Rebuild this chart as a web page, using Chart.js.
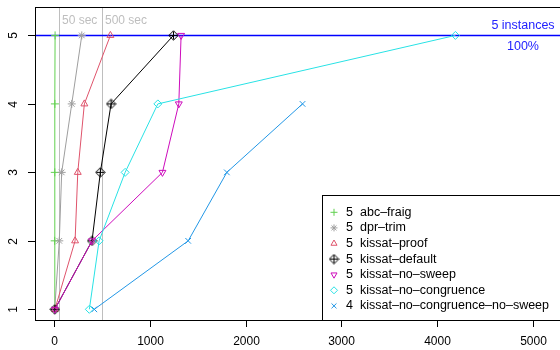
<!DOCTYPE html>
<html>
<head>
<meta charset="utf-8">
<script src="https://cdn.jsdelivr.net/npm/chart.js@4.4.1/dist/chart.umd.min.js"></script>
<style>
  html, body { margin: 0; padding: 0; overflow: hidden; background: #fff; }
  #wrap { width: 600px; height: 350px; }
</style>
</head>
<body>
<div id="wrap"><canvas id="c" width="600" height="350"></canvas></div>
<script>
// solve times (sec), the n-th value is the time when n instances were solved
const names = ['abc–fraig', 'dpr–trim', 'kissat–proof', 'kissat–default',
  'kissat–no–sweep', 'kissat–no–congruence', 'kissat–no–congruence–no–sweep'];
const abcFraig = [2, 4, 5, 6, 8];
const dprTrim = [4, 52, 77, 182, 287];
const kissatProof = [6, 217, 245, 314, 586];
const kissatDefault = [5, 394, 481, 593, 1245];
const kissatNoSweep = [6, 394, 1130, 1301, 1325];
const kissatNoCongruence = [366, 468, 740, 1082, 4192];
const kissatNoCongNoSweep = [418, 1399, 1803, 2594];

const xTicks = [0, 1000, 2000, 3000, 4000, 5000];
const yTicks = [1, 2, 3, 4, 5];
const refTimes = [50, 500];
const refLabels = ['50 sec', '500 sec'];
const totalInstances = 5;

const FONT = '12px "Liberation Sans", Arial, Helvetica, sans-serif';
const LEG_FONT = '12.5px "Liberation Sans", Arial, Helvetica, sans-serif';

// pch 9: diamond with a plus inside
function diamondPlus() {
  const cv = document.createElement('canvas');
  cv.width = 11; cv.height = 11;
  const g = cv.getContext('2d');
  g.strokeStyle = '#000';
  g.lineWidth = 1;
  g.beginPath();
  g.moveTo(5.5, 0.8); g.lineTo(10.2, 5.5); g.lineTo(5.5, 10.2); g.lineTo(0.8, 5.5); g.closePath();
  g.stroke();
  g.beginPath();
  g.moveTo(5.5, 1.5); g.lineTo(5.5, 9.5);
  g.moveTo(1.5, 5.5); g.lineTo(9.5, 5.5);
  g.stroke();
  return cv;
}

const series = [
  { data: abcFraig, color: '#61D04F', style: 'cross', rot: 0 },
  { data: dprTrim, color: '#9E9E9E', style: 'star', rot: 0 },
  { data: kissatProof, color: '#DF536B', style: 'triangle', rot: 0 },
  { data: kissatDefault, color: '#000000', style: diamondPlus(), rot: 0 },
  { data: kissatNoSweep, color: '#CD0BBC', style: 'triangle', rot: 180 },
  { data: kissatNoCongruence, color: '#28E2E5', style: 'rectRot', rot: 0 },
  { data: kissatNoCongNoSweep, color: '#2297E6', style: 'crossRot', rot: 0 }
];

const datasets = series.map((s, i) => ({
  label: names[i],
  data: s.data.map((t, k) => ({ x: t, y: k + 1 })),
  borderColor: s.color,
  backgroundColor: 'rgba(0,0,0,0)',
  pointBorderColor: s.color,
  pointBackgroundColor: 'rgba(0,0,0,0)',
  pointStyle: s.style,
  pointRotation: s.rot,
  pointRadius: 4,
  pointBorderWidth: 1,
  borderWidth: 1,
  tension: 0,
  order: series.length - i
}));

const refLines = {
  id: 'refLines',
  beforeDatasetsDraw(chart) {
    const { ctx, chartArea: a, scales: { x, y } } = chart;
    ctx.save();
    ctx.strokeStyle = '#BEBEBE';
    ctx.lineWidth = 1;
    ctx.fillStyle = '#BEBEBE';
    ctx.font = FONT;
    ctx.textBaseline = 'middle';
    refTimes.forEach((t, i) => {
      const px = Math.round(x.getPixelForValue(t)) + 0.5;
      ctx.beginPath(); ctx.moveTo(px, a.top); ctx.lineTo(px, a.bottom); ctx.stroke();
      ctx.fillText(refLabels[i], px + 2.5, 21);
    });
    const py = y.getPixelForValue(totalInstances);
    ctx.strokeStyle = '#0000FF';
    ctx.lineWidth = 1.5;
    ctx.beginPath(); ctx.moveTo(a.left, py); ctx.lineTo(a.right, py); ctx.stroke();
    ctx.fillStyle = '#2222FF';
    ctx.font = LEG_FONT;
    ctx.textAlign = 'center';
    ctx.fillText(totalInstances + ' instances', 523, 26);
    ctx.fillText('100%', 523, 47);
    ctx.restore();
  }
};

const frameAxes = {
  id: 'frameAxes',
  afterDraw(chart) {
    const { ctx, chartArea: a, scales: { x, y } } = chart;
    ctx.save();
    ctx.strokeStyle = '#000';
    ctx.lineWidth = 1;
    ctx.strokeRect(a.left + 0.5, a.top + 0.5, a.right - a.left, a.bottom - a.top);
    ctx.fillStyle = '#000';
    ctx.font = FONT;
    ctx.textAlign = 'center';
    ctx.textBaseline = 'middle';
    xTicks.forEach(v => {
      const px = Math.round(x.getPixelForValue(v)) + 0.5;
      ctx.beginPath(); ctx.moveTo(px, a.bottom); ctx.lineTo(px, a.bottom + 7); ctx.stroke();
      ctx.fillText(String(v), px, 342);
    });
    yTicks.forEach(v => {
      const py = Math.round(y.getPixelForValue(v)) + 0.5;
      ctx.beginPath(); ctx.moveTo(a.left - 7, py); ctx.lineTo(a.left, py); ctx.stroke();
      ctx.save();
      ctx.translate(14, py);
      ctx.rotate(-Math.PI / 2);
      ctx.fillText(String(v), 0, 0);
      ctx.restore();
    });

    // legend box
    const lx = 322.5, ly = 195.5;
    ctx.fillStyle = '#fff';
    ctx.fillRect(lx, ly, 300, a.bottom - ly);
    ctx.strokeRect(lx, ly, 300, a.bottom - ly + 0.5);
    ctx.font = LEG_FONT;
    ctx.textBaseline = 'middle';
    series.forEach((s, i) => {
      const ry = 212.3 + i * 15.6;
      ctx.strokeStyle = s.color;
      ctx.fillStyle = 'rgba(0,0,0,0)';
      Chart.helpers.drawPoint(ctx, {
        pointStyle: s.style, rotation: s.rot, radius: 3.5, borderWidth: 1
      }, 334, ry);
      ctx.fillStyle = '#000';
      ctx.textAlign = 'center';
      ctx.fillText(String(s.data.length), 349.5, ry);
      ctx.textAlign = 'left';
      ctx.fillText(names[i], 360, ry);
    });
    ctx.restore();
  }
};

new Chart(document.getElementById('c'), {
  type: 'line',
  data: { datasets },
  options: {
    responsive: false,
    animation: false,
    devicePixelRatio: 1,
    layout: { padding: { left: 35, top: 7, right: 29, bottom: 30 } },
    scales: {
      x: { type: 'linear', min: -202, max: 5400, display: false },
      y: { type: 'linear', min: 0.844, max: 5.415, display: false }
    },
    plugins: {
      legend: { display: false },
      tooltip: { enabled: false }
    }
  },
  plugins: [refLines, frameAxes]
});
</script>
</body>
</html>
